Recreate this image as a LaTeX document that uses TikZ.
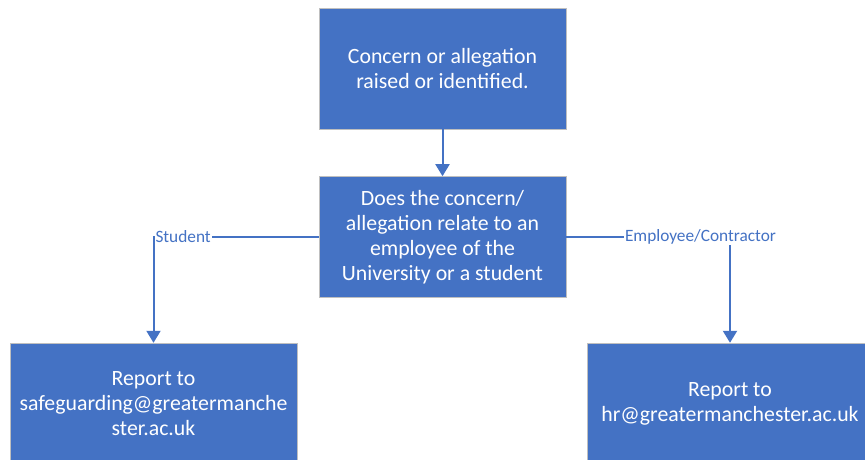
\documentclass[tikz,border=0pt]{standalone}
\usepackage{fontspec}
\setmainfont{Carlito}
\usetikzlibrary{positioning, arrows.meta}
\definecolor{boxblue}{HTML}{4472C4}
\definecolor{boxedge}{HTML}{BFBFBF}
\tikzset {
    x=1pt, y=1pt,
    node distance=47pt,
    box/.style={draw=boxedge, fill=boxblue, text=white, align=center, inner sep=0pt,
        minimum width=247pt, minimum height=121pt, font=\fontsize{21.8}{25}\selectfont},
    link/.style={draw=boxblue, line width=2pt, -{Triangle[width=14pt,length=12pt]}},
    lbl/.style={fill=white, text=boxblue, inner sep=1pt, font=\fontsize{17.3}{20}\selectfont}
}
\begin{document}
\begin{tikzpicture}
    \useasboundingbox (0,0) rectangle (865,-460);

    \node[box] (raised) at (442.5,-68.5) {Concern or allegation\\raised or identified.};
    \node[box, below=of raised] (ask) {Does the concern/\\allegation relate to an\\employee of the\\University or a student};
    \node[box, minimum width=287pt] (student) at (153.5,-403.5) {Report to\\safeguarding@greatermanche\\ster.ac.uk};
    \node[box, minimum width=286pt] (staff) at (730,-403.5) {Report to\\hr@greatermanchester.ac.uk};

    \draw[link] (raised) -- (ask);
    \draw[link] (ask.west) -| node[lbl, pos=0.5, anchor=west] {Student} (student);
    \draw[link] (ask.east) -| node[lbl, pos=0.41] {Employee/Contractor} (staff);
\end{tikzpicture}
\end{document}
